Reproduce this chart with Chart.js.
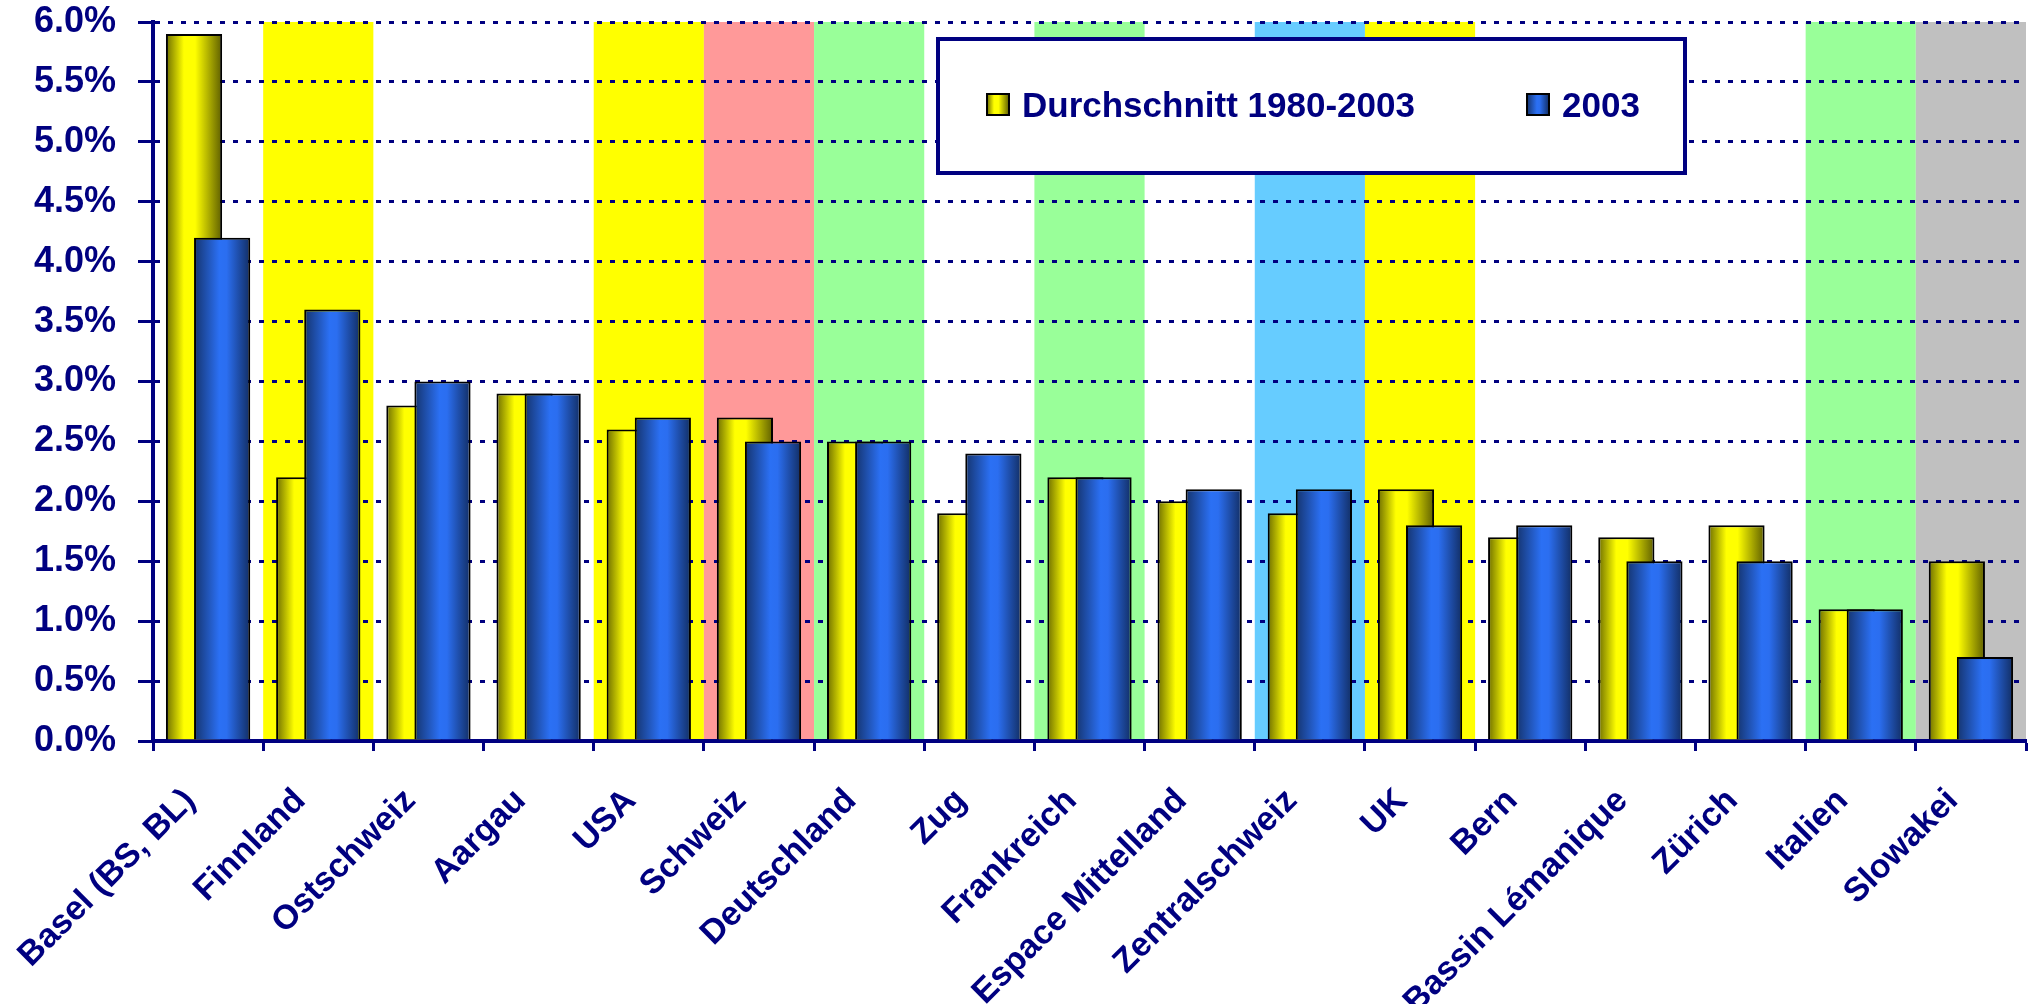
<!DOCTYPE html>
<html>
<head>
<meta charset="utf-8">
<title>Wachstum</title>
<script src="https://cdn.jsdelivr.net/npm/chart.js@4.4.1/dist/chart.umd.min.js"></script>
<style>
  html, body { margin: 0; padding: 0; background: #fff; }
  #wrap { width: 2028px; height: 1004px; position: relative; }
</style>
</head>
<body>
<div id="wrap"><canvas id="chart"></canvas></div>
<script>
// Daten (in Prozent)
const categories = ['Basel (BS, BL)', 'Finnland', 'Ostschweiz', 'Aargau', 'USA', 'Schweiz',
  'Deutschland', 'Zug', 'Frankreich', 'Espace Mittelland', 'Zentralschweiz', 'UK', 'Bern',
  'Bassin Lémanique', 'Zürich', 'Italien', 'Slowakei'];
const average = [5.9, 2.2, 2.8, 2.9, 2.6, 2.7, 2.5, 1.9, 2.2, 2.0, 1.9, 2.1, 1.7, 1.7, 1.8, 1.1, 1.5];
const year2003 = [4.2, 3.6, 3.0, 2.9, 2.7, 2.5, 2.5, 2.4, 2.2, 2.1, 2.1, 1.8, 1.8, 1.5, 1.5, 1.1, 0.7];
const seriesLabels = ['Durchschnitt 1980-2003', '2003'];
const bandColors = [null, '#FFFF00', null, null, '#FFFF00', '#FF9999', '#99FF99', null, '#99FF99',
  null, '#66CCFF', '#FFFF00', null, null, null, '#99FF99', '#C0C0C0'];
const yTickLabels = ['0.0%', '0.5%', '1.0%', '1.5%', '2.0%', '2.5%', '3.0%', '3.5%', '4.0%',
  '4.5%', '5.0%', '5.5%', '6.0%'];

const NAVY = '#000080';
const CAT_PCT = 0.51;
const BAR_PCT = 2.0;
const FONT = '"Liberation Sans", Arial, sans-serif';

const yellowStops = [[0, '#6e6e00'], [0.32, '#ffff00'], [0.52, '#ffff00'], [1, '#5e5e00']];
const blueStops = [[0, '#15346e'], [0.45, '#2b70f4'], [0.58, '#2b6ef0'], [1, '#122e64']];

// horizontaler Verlauf pro Balken, aus der x-Skala berechnet
function barGradient(ctx, stops, side) {
  const chart = ctx.chart;
  const x = chart.scales.x;
  if (ctx.type !== 'data' || !x || !chart.chartArea) return stops[1][1];
  const cat = x.width / categories.length;
  const slot = cat * CAT_PCT / 2;
  const w = slot * BAR_PCT;
  const cx = x.getPixelForValue(ctx.dataIndex) + side * slot / 2;
  const g = chart.ctx.createLinearGradient(cx - w / 2, 0, cx + w / 2, 0);
  stops.forEach(([o, c]) => g.addColorStop(o, c));
  return g;
}

// Skalen ohne automatische Randabstände
function noPadding(scale) {
  scale.paddingTop = 0;
  scale.paddingBottom = 0;
  scale.paddingLeft = 0;
  scale.paddingRight = 0;
}

// farbige Hintergrundstreifen
const bandsPlugin = {
  id: 'bands',
  beforeDraw(chart) {
    const { ctx, chartArea, scales: { x } } = chart;
    const cat = x.width / categories.length;
    ctx.save();
    ctx.fillStyle = '#fff';
    ctx.fillRect(0, 0, chart.width, chart.height);
    bandColors.forEach((c, i) => {
      if (!c) return;
      ctx.fillStyle = c;
      ctx.fillRect(x.getPixelForValue(i) - cat / 2, chartArea.top, cat, chartArea.bottom - chartArea.top);
    });
    ctx.restore();
  }
};

// die blauen Balken sollen über den gelben liegen
const drawOrderPlugin = {
  id: 'drawOrder',
  beforeDatasetDraw(chart, args) {
    if (args.index === 1) return false;
  },
  afterDatasetsDraw(chart) {
    chart.getDatasetMeta(1).controller.draw();
  }
};

// Legende im Diagramm
const legendPlugin = {
  id: 'boxLegend',
  afterDraw(chart) {
    const { ctx } = chart;
    ctx.save();
    ctx.fillStyle = '#fff';
    ctx.fillRect(938, 39, 747, 134);
    ctx.strokeStyle = NAVY;
    ctx.lineWidth = 4;
    ctx.strokeRect(938, 39, 747, 134);

    const items = [
      { x: 987, stops: yellowStops, text: seriesLabels[0] },
      { x: 1527, stops: blueStops, text: seriesLabels[1] }
    ];
    items.forEach(it => {
      const g = ctx.createLinearGradient(it.x, 0, it.x + 22, 0);
      it.stops.forEach(([o, c]) => g.addColorStop(o, c));
      ctx.fillStyle = g;
      ctx.fillRect(it.x, 94, 22, 21);
      ctx.strokeStyle = '#000';
      ctx.lineWidth = 2;
      ctx.strokeRect(it.x, 94, 22, 21);
      ctx.fillStyle = NAVY;
      ctx.font = 'bold 35px ' + FONT;
      ctx.textBaseline = 'alphabetic';
      ctx.fillText(it.text, it.x + 35, 117);
    });
    ctx.restore();
  }
};

new Chart(document.getElementById('chart'), {
  type: 'bar',
  data: {
    labels: categories,
    datasets: [
      {
        label: seriesLabels[0],
        data: average,
        backgroundColor: ctx => barGradient(ctx, yellowStops, -1),
        borderColor: '#000',
        borderWidth: 2
      },
      {
        label: seriesLabels[1],
        data: year2003,
        backgroundColor: ctx => barGradient(ctx, blueStops, 1),
        borderColor: '#000',
        borderWidth: 2
      }
    ]
  },
  options: {
    responsive: true,
    maintainAspectRatio: false,
    animation: false,
    barPercentage: BAR_PCT,
    categoryPercentage: CAT_PCT,
    layout: { padding: { top: 22, right: 2, left: 0, bottom: 0 } },
    plugins: {
      legend: { display: false },
      tooltip: { enabled: false }
    },
    scales: {
      x: {
        grid: {
          drawOnChartArea: false,
          offset: true,
          tickLength: 10,
          tickWidth: 3,
          tickColor: NAVY
        },
        border: { color: NAVY, width: 4 },
        ticks: {
          autoSkip: false,
          maxRotation: 45,
          minRotation: 45,
          color: NAVY,
          padding: 30,
          labelOffset: -18,
          font: { family: FONT, size: 34, weight: 'bold' }
        },
        afterFit: scale => { scale.height = 263; noPadding(scale); }
      },
      y: {
        min: 0,
        max: 6,
        ticks: {
          stepSize: 0.5,
          color: NAVY,
          padding: 22,
          font: { family: FONT, size: 36, weight: 'bold' },
          callback: (v, i) => yTickLabels[i]
        },
        grid: {
          color: NAVY,
          lineWidth: 3,
          tickLength: 15,
          tickWidth: 3,
          tickColor: NAVY,
          tickBorderDash: []
        },
        border: { color: NAVY, width: 4, dash: [5, 8] },
        afterFit: scale => { scale.width = 153; noPadding(scale); }
      }
    }
  },
  plugins: [bandsPlugin, drawOrderPlugin, legendPlugin]
});
</script>
</body>
</html>
